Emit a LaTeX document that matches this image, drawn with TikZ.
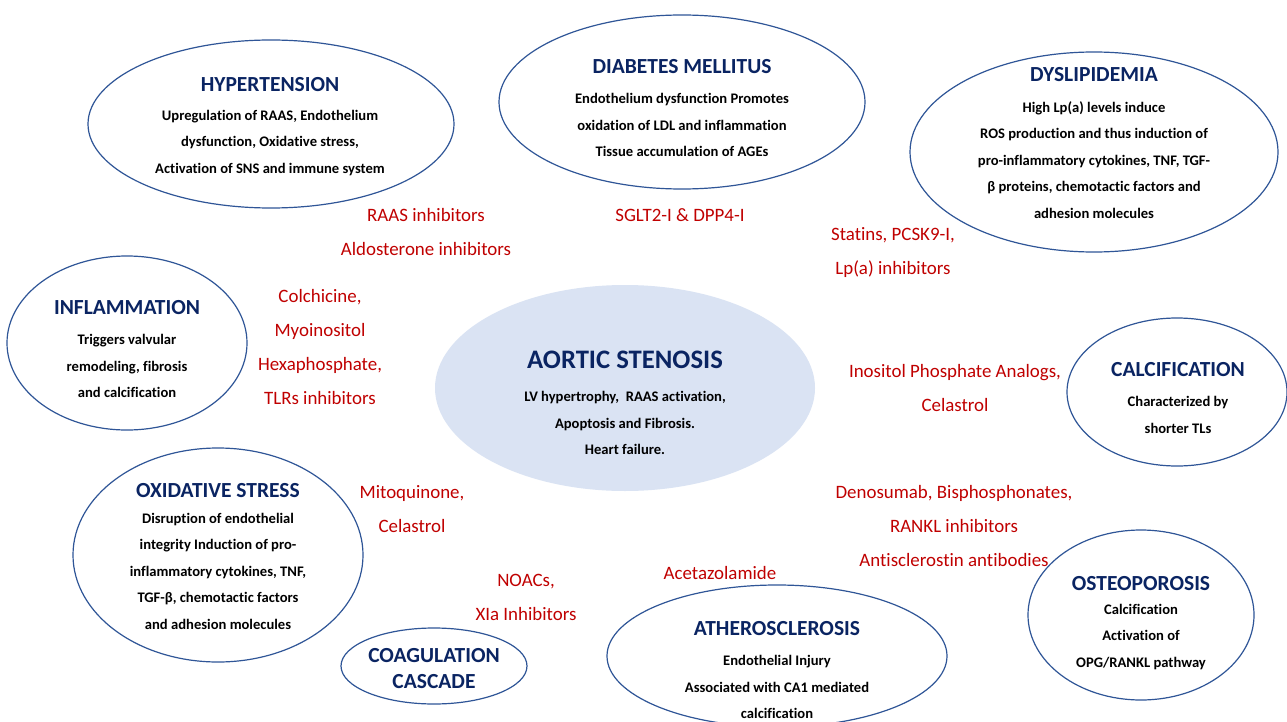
\documentclass[tikz,border=0pt]{standalone}
\usepackage{fontspec}
\setmainfont{Carlito}[Ligatures=NoCommon]
\usetikzlibrary{shapes.geometric}
\definecolor{navy}{HTML}{0A2462}
\definecolor{ellblue}{HTML}{2F5597}
\definecolor{drugred}{HTML}{C00000}
\definecolor{asfill}{HTML}{DAE3F3}
\tikzset{
  ell/.style={ellipse, draw=ellblue, line width=1.2pt, inner sep=0pt},
  ttl/.style={text=navy, font=\bfseries\fontsize{21.5}{26}\selectfont, align=center, inner sep=0pt},
  bigttl/.style={text=navy, font=\bfseries\fontsize{26.7}{30}\selectfont, inner sep=0pt},
  body/.style={text=black, font=\bfseries\fontsize{14.6}{26.5}\selectfont, align=center, inner sep=0pt},
  drug/.style={text=drugred, font=\fontsize{18.9}{34}\selectfont, align=center, inner sep=0pt},
}
\begin{document}
\begin{tikzpicture}[x=1pt,y=-1pt]
\useasboundingbox[fill=white] (0,0) rectangle (1287,722);

% ellipses
\node[ell, minimum width=366pt, minimum height=168pt] (hyp) at (271,124) {};
\node[ell, minimum width=366pt, minimum height=174pt] (dm) at (682,102) {};
\node[ell, minimum width=368pt, minimum height=200pt] (dys) at (1094,152) {};
\node[ell, minimum width=240pt, minimum height=174pt] (inf) at (127,343) {};
\node[ellipse, fill=asfill, inner sep=0pt, minimum width=380pt, minimum height=206pt] (as) at (625,388) {};
\node[ell, minimum width=220pt, minimum height=148pt] (cal) at (1177,392) {};
\node[ell, minimum width=290pt, minimum height=214pt] (ox) at (218,555) {};
\node[ell, minimum width=186pt, minimum height=76pt] (coag) at (434,666) {};
\node[ell, minimum width=340pt, minimum height=142pt] (ath) at (777,656) {};
\node[ell, minimum width=226pt, minimum height=170pt] (ost) at (1141,615) {};

% titles
\node[ttl] (hypT) at (270,85) {HYPERTENSION};
\node[ttl] (dmT) at (682,67) {DIABETES MELLITUS};
\node[ttl] (dysT) at (1094,75) {DYSLIPIDEMIA};
\node[ttl] (infT) at (127,308) {INFLAMMATION};
\node[bigttl] (asT) at (625,360) {AORTIC STENOSIS};
\node[ttl] (calT) at (1178,370) {CALCIFICATION};
\node[ttl] (oxT) at (218,491) {OXIDATIVE STRESS};
\node[ttl] (coagT) at (434,669) {COAGULATION\\CASCADE};
\node[ttl] (athT) at (777,629) {ATHEROSCLEROSIS};
\node[ttl] (ostT) at (1141,584) {OSTEOPOROSIS};

% bodies
\node[body] (hypB) at (270,143) {Upregulation of RAAS, Endothelium\\dysfunction, Oxidative stress,\\Activation of SNS and immune system};
\node[body] (dmB) at (682,125) {Endothelium dysfunction Promotes\\oxidation of LDL and inflammation\\Tissue accumulation of AGEs};
\node[body] (dysB) at (1094,160) {High Lp(a) levels induce\\ROS production and thus induction of\\pro-inflammatory cytokines, TNF, TGF-\\β proteins, chemotactic factors and\\adhesion molecules};
\node[body] (infB) at (127,366) {Triggers valvular\\remodeling, fibrosis\\and calcification};
\node[body] (asB) at (625,423) {LV hypertrophy,\ \ RAAS activation,\\Apoptosis and Fibrosis.\\Heart failure.};
\node[body] (calB) at (1178,415) {Characterized by\\shorter TLs};
\node[body] (oxB) at (218,571) {Disruption of endothelial\\integrity Induction of pro-\\inflammatory cytokines, TNF,\\TGF-β, chemotactic factors\\and adhesion molecules};
\node[body] (athB) at (777,687) {Endothelial Injury\\Associated with CA1 mediated\\calcification};
\node[body] (ostB) at (1141,637) {Calcification\\Activation of\\OPG/RANKL pathway};

% drugs
\node[drug] (dHyp) at (426,232) {RAAS inhibitors\\Aldosterone inhibitors};
\node[drug] (dDm) at (680,215) {SGLT2-I \& DPP4-I};
\node[drug] (dDys) at (893,253) {Statins, PCSK9-I,\\Lp(a) inhibitors};
\node[drug] (dInf) at (320,347) {Colchicine,\\Myoinositol\\Hexaphosphate,\\TLRs inhibitors};
\node[drug] (dCal) at (955,388) {Inositol Phosphate Analogs,\\Celastrol};
\node[drug] (dOx) at (412,509) {Mitoquinone,\\Celastrol};
\node[drug] (dOst) at (954,526) {Denosumab, Bisphosphonates,\\RANKL inhibitors\\Antisclerostin antibodies};
\node[drug] (dCoag) at (526,597) {NOACs,\\XIa Inhibitors};
\node[drug] (dAth) at (720,573) {Acetazolamide};
\end{tikzpicture}
\end{document}
